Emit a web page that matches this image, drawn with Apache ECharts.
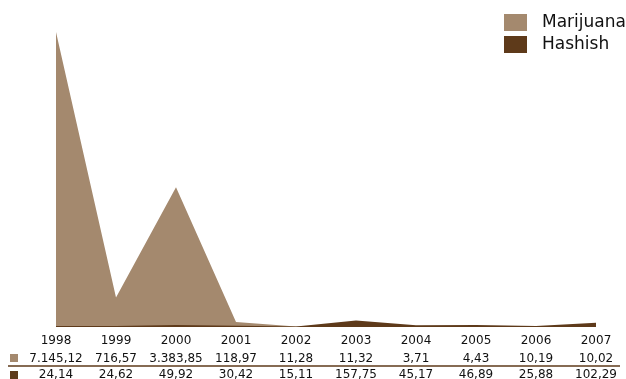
<!DOCTYPE html>
<html><head><meta charset="utf-8">
<script src="https://cdn.jsdelivr.net/npm/echarts@6/dist/echarts.min.js"></script>
<style>html,body{margin:0;padding:0;background:#fff}#c{width:626px;height:379px}</style>
</head><body><div id="c"></div>
<script>
const years = ['1998','1999','2000','2001','2002','2003','2004','2005','2006','2007'];
const marijuana = [7145.12, 716.57, 3383.85, 118.97, 11.28, 11.32, 3.71, 4.43, 10.19, 10.02];
const hashish = [24.14, 24.62, 49.92, 30.42, 15.11, 157.75, 45.17, 46.89, 25.88, 102.29];
const seriesNames = ['Marijuana', 'Hashish'];
const colors = ['#a4896e', '#5e3a1a'];

function fmt(v) {
  const parts = v.toFixed(2).split('.');
  const int = parts[0].replace(/\B(?=(\d{3})+(?!\d))/g, '.');
  return int + ',' + parts[1];
}
const font = 'DejaVu Sans, Verdana, sans-serif';
const chart = echarts.init(document.getElementById('c'));
const lbl = {margin:8, interval:0, fontFamily:font, fontSize:12, color:'#111'};
const base = {type:'category', boundaryGap:false, axisLine:{show:false}, axisTick:{show:false}, position:'bottom'};
chart.setOption({
  animation:false,
  grid:{left:56, right:30, top:32, bottom:52, containLabel:false, outerBoundsMode:'none'},
  legend:{orient:'vertical', left:504, top:14, padding:0, itemWidth:23, itemHeight:17, itemGap:5,
    textStyle:{fontFamily:font, fontSize:17, color:'#111', padding:[0,0,0,10]},
    data:seriesNames.map((n,i)=>({name:n, icon:'rect', itemStyle:{color:colors[i]}}))},
  xAxis:[
    Object.assign({}, base, {data:years, axisLabel:lbl}),
    Object.assign({}, base, {data:marijuana.map(fmt), offset:18, axisLabel:lbl}),
    Object.assign({}, base, {data:hashish.map(fmt), offset:34, axisLabel:lbl})
  ],
  yAxis:{type:'value', min:0, max:7145.12, show:false, splitLine:{show:false}},
  graphic:[
    {type:'rect', shape:{x:10, y:354, width:8, height:8}, style:{fill:colors[0]}},
    {type:'rect', shape:{x:10, y:371, width:8, height:8}, style:{fill:colors[1]}},
    {type:'line', shape:{x1:8, y1:366, x2:620, y2:366}, style:{stroke:colors[1], lineWidth:1.5}}
  ],
  series:[
    {name:seriesNames[0], type:'line', data:marijuana, symbol:'none', lineStyle:{width:0}, itemStyle:{color:colors[0]}, areaStyle:{color:colors[0], opacity:1}},
    {name:seriesNames[1], type:'line', data:hashish, symbol:'none', lineStyle:{width:0}, itemStyle:{color:colors[1]}, areaStyle:{color:colors[1], opacity:1}}
  ]
});
</script></body></html>
